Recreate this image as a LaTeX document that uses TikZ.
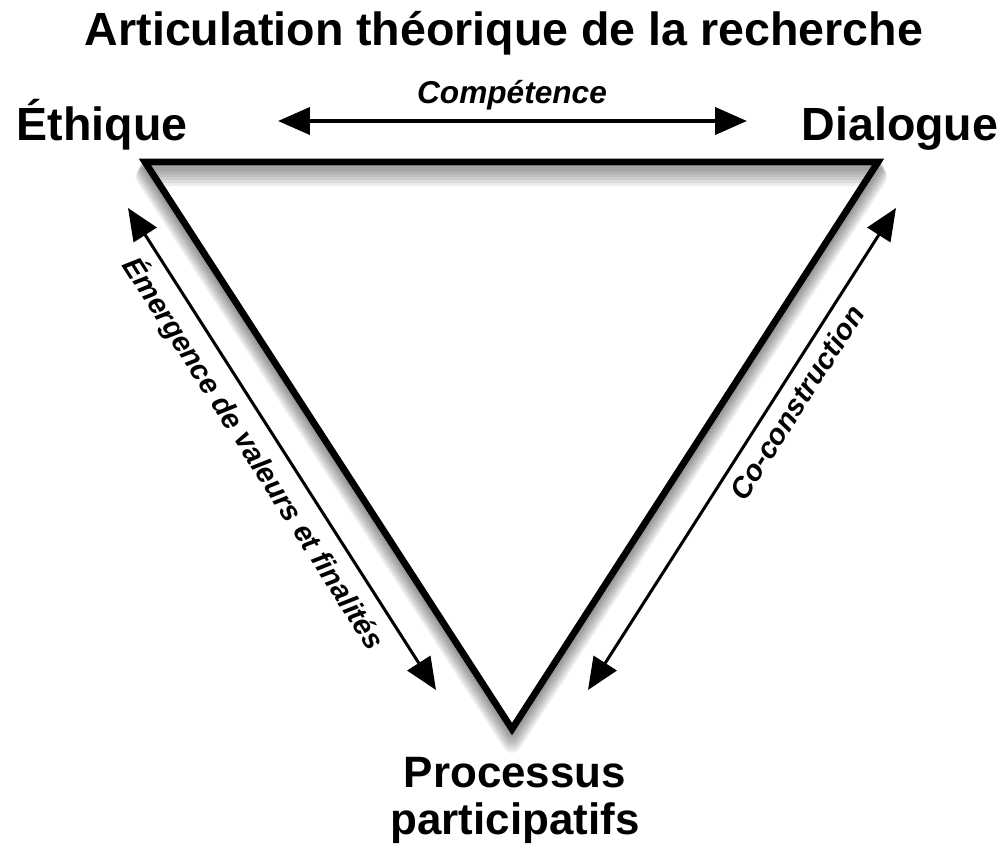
\documentclass[tikz,border=0pt]{standalone}
\usepackage{fontspec}
\setmainfont{Liberation Sans}
\usetikzlibrary{arrows.meta}
\tikzset{
  bigtext/.style={font=\fontsize{26.5}{28}\selectfont\bfseries, inner sep=0pt},
  arrowtext/.style={font=\fontsize{16.5}{18}\selectfont\bfseries\itshape, inner sep=0pt},
  dblarrow/.style={{Triangle[length=0.64cm,width=0.54cm]}-{Triangle[length=0.64cm,width=0.54cm]}, line width=0.06cm},
}
\begin{document}
\begin{tikzpicture}[x=0.02cm,y=-0.02cm]
\useasboundingbox (0,0) rectangle (1004,849);
    % Corners of the triangle
  \coordinate (eth) at (145,162);
  \coordinate (dia) at (878,162);
  \coordinate (pro) at (512,729);

    % Soft shadow under the triangle
  \foreach \k in {1,...,7}
    \draw[black, opacity=0.07, line width=0.12cm+\k*0.035cm, line join=round]
      ([yshift=-\k*1.2pt]eth) -- ([yshift=-\k*1.2pt]dia) -- ([yshift=-\k*1.2pt]pro) -- cycle;

    % Draw triangle
  \draw[line width=0.135cm, miter limit=10] (eth) -- (dia) -- (pro) -- cycle;

    % Add labels
  \node[bigtext, anchor=base] (title) at (504,45) {Articulation théorique de la recherche};
  \node[bigtext, anchor=base] (ethl) at (102,140) {Éthique};
  \node[bigtext, anchor=base] (dial) at (900,140) {Dialogue};
  \node[bigtext, font=\fontsize{25}{26.7}\selectfont\bfseries, align=center, anchor=north] (prol) at (515,757) {Processus\\participatifs};

    % Arrows along the sides
  \coordinate (c1) at (278,121);
  \coordinate (c2) at (747,121);
  \coordinate (e1) at (128,208);
  \coordinate (e2) at (436,690);
  \coordinate (d1) at (588,690);
  \coordinate (d2) at (896,208);
  \draw[dblarrow, line width=0.08cm] (c1) -- (c2);
  \node[arrowtext, font=\fontsize{18}{20}\selectfont\bfseries\itshape, anchor=base] (comp) at (512,103) {Compétence};
  \draw[dblarrow] (e1) -- (e2) node[pos=0.48, sloped, below=5pt, arrowtext] (emer) {Émergence de valeurs et finalités};
  \draw[dblarrow] (d1) -- (d2) node[pos=0.62, sloped, below=5pt, arrowtext] (cocon) {Co-construction};
\end{tikzpicture}
\end{document}
